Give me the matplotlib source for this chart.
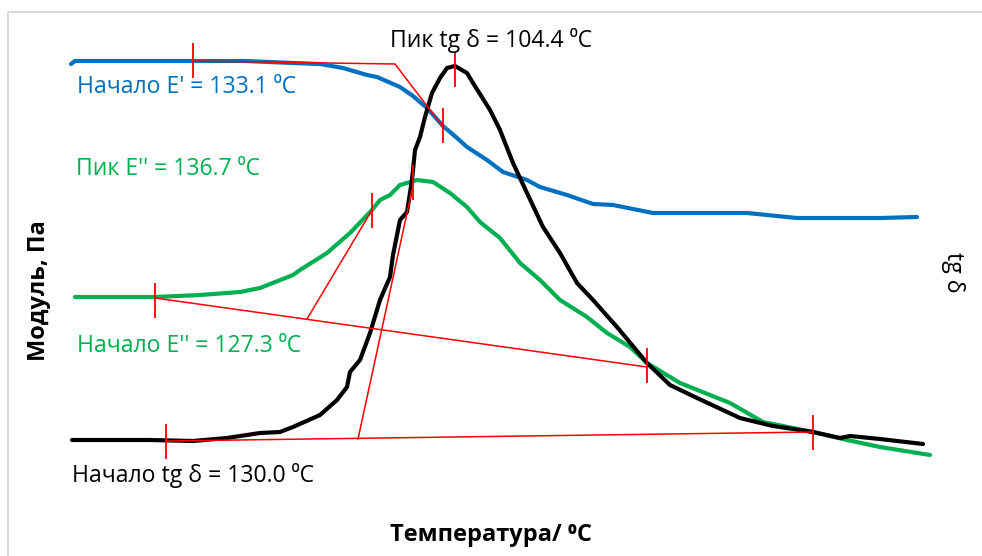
import matplotlib
matplotlib.use("Agg")
import matplotlib.pyplot as plt
from matplotlib.lines import Line2D

FONT = ['Open Sans', 'DejaVu Sans']
plt.rcParams['font.family'] = FONT

# ---- data (temperature, arbitrary units) ----
e1_T = [24.8, 25.6, 40.6, 59.6, 69.2, 74.6, 79.2, 84.0, 86.0, 90.6, 93.2, 96.0, 99.2,
        102.0, 104.0, 108.0, 111.2, 116.0, 118.6, 124.0, 129.2, 133.2, 141.2, 150.6,
        160.0, 170.0, 186.6, 194.0]
e1_Y = [98.4, 99.0, 99.0, 99.0, 98.6, 98.4, 97.6, 96.2, 95.8, 93.8, 92.0, 89.6, 86.0,
        83.6, 81.8, 79.2, 76.8, 75.2, 73.8, 72.2, 70.4, 70.2, 68.6, 68.6,
        68.6, 67.6, 67.6, 67.8]

e2_T = [25.6, 41.6, 50.6, 58.6, 62.6, 69.2, 70.6, 76.0, 80.6, 85.0, 86.6, 88.6, 90.6,
        94.0, 97.2, 100.6, 104.0, 106.6, 110.6, 114.6, 118.6, 122.6, 128.0, 132.0,
        136.6, 140.0, 146.6, 156.6, 163.2, 173.2, 180.0, 186.6, 196.6]
e2_Y = [51.8, 51.8, 52.2, 52.8, 53.6, 56.2, 57.2, 60.6, 64.6, 69.2, 71.2, 72.2, 74.2,
        75.2, 74.8, 72.6, 69.8, 66.8, 63.6, 58.6, 55.2, 51.2, 47.8, 44.6,
        41.8, 38.6, 34.6, 30.6, 26.8, 24.8, 23.2, 21.8, 20.2]

tg_T = [25.0, 40.6, 49.2, 56.0, 62.6, 66.6, 69.2, 74.6, 78.0, 80.0, 80.6, 82.6, 84.6,
        86.6, 88.6, 89.2, 90.6, 92.0, 93.0, 93.6, 94.6, 95.6, 97.0, 98.6, 100.0,
        101.6, 104.0, 105.2, 108.6, 110.6, 113.2, 116.0, 119.2, 122.6, 126.0, 129.2,
        134.0, 140.0, 144.6, 150.0, 158.6, 165.2, 173.2, 178.6, 180.6, 186.6, 195.2]
tg_Y = [23.2, 23.2, 23.0, 23.6, 24.6, 24.8, 25.8, 28.2, 31.2, 33.8, 36.8, 39.2, 44.6,
        51.2, 55.8, 60.2, 67.2, 68.8, 75.2, 81.2, 83.8, 87.8, 92.6, 95.6, 97.6,
        98.0, 96.6, 94.6, 89.2, 85.2, 78.6, 72.6, 65.8, 60.6, 54.6, 51.2,
        45.8, 38.6, 34.2, 31.6, 27.6, 26.0, 24.8, 23.6, 24.0, 23.4, 22.4]

# construction lines (red)
e1_line_T = [49.2, 89.6, 99.2]
e1_line_Y = [99.0, 98.4, 85.8]
e2_base_T = [41.6, 140.0]
e2_base_Y = [51.6, 37.8]
e2_tan_T = [72.0, 85.0]
e2_tan_Y = [47.4, 69.2]
tg_base_T = [43.8, 173.2]
tg_base_Y = [23.0, 24.8]
tg_tan_T = [82.2, 93.0]
tg_tan_Y = [23.4, 73.2]

# marker ticks (centre points)
tick_T = [49.2, 99.2, 101.6, 93.2, 41.6, 85.0, 140.0, 43.8, 173.2]
tick_Y = [99.1, 86.1, 97.3, 74.7, 51.1, 69.1, 38.1, 23.0, 24.7]
tick_half = 3.5

labels = ["Пик tg δ = 104.4 ⁰C", "Начало E' = 133.1 ⁰C", "Пик E'' = 136.7 ⁰C",
          "Начало E'' = 127.3 ⁰C", "Начало tg δ = 130.0 ⁰C"]
label_T = [88.6, 26.0, 25.8, 26.0, 25.0]
label_Y = [101.8, 92.6, 76.2, 40.8, 14.8]
label_col = ['black', '#0070C0', '#00B050', '#00B050', 'black']

BLUE = '#0070C0'
GREEN = '#00B050'
RED = '#FF0000'

fig = plt.figure(figsize=(9.82, 5.56), dpi=100)
ax = fig.add_axes([0, 0, 1, 1])
ax.set_xlim(10.6, 207.0)
ax.set_ylim(0, 111.2)
ax.axis('off')

ax.plot(e1_T, e1_Y, color=BLUE, lw=3.0, solid_capstyle='round', zorder=3)
ax.plot(e2_T, e2_Y, color=GREEN, lw=3.0, solid_capstyle='round', zorder=3)
ax.plot(tg_T, tg_Y, color='black', lw=3.0, solid_capstyle='round', zorder=4)

for xs, ys in [(e1_line_T, e1_line_Y), (e2_base_T, e2_base_Y), (e2_tan_T, e2_tan_Y),
               (tg_base_T, tg_base_Y), (tg_tan_T, tg_tan_Y)]:
    ax.plot(xs, ys, color=RED, lw=1.1, zorder=5)
ax.vlines(tick_T, [y - tick_half for y in tick_Y], [y + tick_half for y in tick_Y],
          color=RED, lw=1.3, zorder=5)

for s, x, y, c in zip(labels, label_T, label_Y, label_col):
    ax.text(x, y, s, color=c, fontsize=16.6, ha='left', va='baseline', zorder=6)

fig.text(0.0397, 0.478, "Модуль, Па", rotation=90, fontsize=17, fontweight='bold',
         ha='center', va='center')
fig.text(0.5, 0.038, "Температура/ ⁰C", fontsize=17, fontweight='bold',
         ha='center', va='center')
fig.text(0.9705, 0.511, "tg δ", rotation=270, fontsize=16.6, ha='center', va='center')

# chart-area border
fig.add_artist(Line2D([8 / 982, 8 / 982, 1.0], [0.0, 1 - 12 / 556, 1 - 12 / 556],
                      transform=fig.transFigure, color='#d9d9d9', lw=1.5))

fig.savefig('out.png', dpi=100, facecolor='white')
